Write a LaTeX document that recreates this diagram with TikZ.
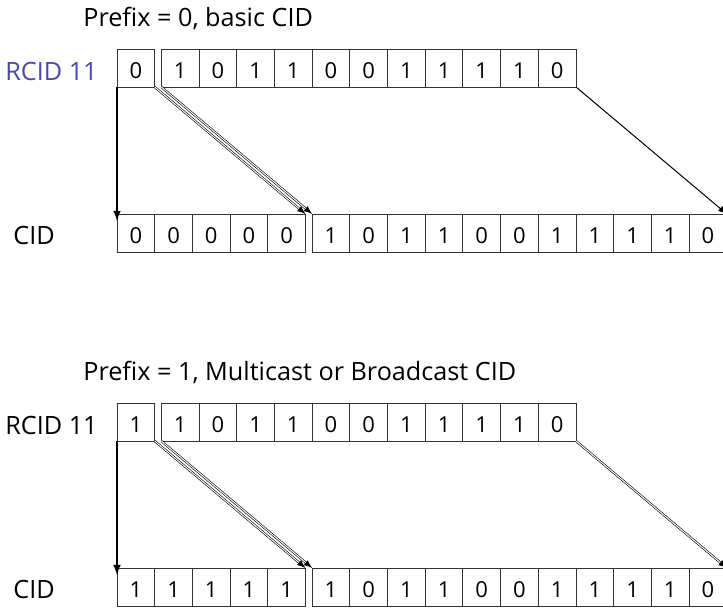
\documentclass[tikz,border=0pt]{standalone}
\usepackage{fontspec}
\setmainfont{Open Sans}
\usetikzlibrary{positioning}
\usetikzlibrary{arrows}
\definecolor{rcidblue}{RGB}{72,72,176}

\tikzset{
	bit/.style={minimum width=18.85pt,minimum height=19pt,inner sep=0pt,outer sep=0pt,draw=black!80,line width=0.5pt,text height=10.8pt,text depth=0pt,font=\fontsize{11}{13}\selectfont},
	dbl/.style={double=white,double distance=0.5pt,line width=0.3pt},
}

\begin{document}
\begin{tikzpicture}[>=latex,x=0.5pt,y=-0.5pt,font=\fontsize{12.6}{15}\selectfont]
	\useasboundingbox (0,0) rectangle (723,607);

	% Prefix = 0
	\node [anchor=base west,inner sep=0pt] at (83,26) (title0) {Prefix = 0, basic CID};
	\node [anchor=base,text=rcidblue] at (51.5,80) (rcid0_txt) {RCID 11};
	\node [anchor=base] at (34,244) (cid0_txt) {CID};

	\node [bit,anchor=west] at (117,68) (rcid0_p) {0};
	\node [bit,right=3.3pt of rcid0_p] (rcid0_1) {1};
	\foreach \b [count=\i from 2,remember=\i as \j (initially 1)] in {0,1,1,0,0,1,1,1,1,0}
		\node [bit,right=0pt of rcid0_\j] (rcid0_\i) {\b};

	\node [bit,anchor=west] at (117,233) (cid0_p1) {0};
	\foreach \b [count=\i from 2,remember=\i as \j (initially 1)] in {0,0,0,0}
		\node [bit,right=0pt of cid0_p\j] (cid0_p\i) {\b};
	\node [bit,right=3.3pt of cid0_p5] (cid0_1) {1};
	\foreach \b [count=\i from 2,remember=\i as \j (initially 1)] in {0,1,1,0,0,1,1,1,1,0}
		\node [bit,right=0pt of cid0_\j] (cid0_\i) {\b};

	\draw[->,line width=0.75pt] (rcid0_p.south west) -- ([yshift=-3.5pt]cid0_p1.north west);
	\draw[->,dbl] (rcid0_p.south east) -- (cid0_p5.north east);
	\draw[->,dbl] (rcid0_1.south west) -- (cid0_1.north west);
	\draw[->,line width=0.5pt] (rcid0_11.south east) -- (cid0_11.north east);

	% Prefix = 1
	\node [anchor=base west,inner sep=0pt] at (83,380) (title1) {Prefix = 1, Multicast or Broadcast CID};
	\node [anchor=base] at (51.5,434) (rcid1_txt) {RCID 11};
	\node [anchor=base] at (34,598) (cid1_txt) {CID};

	\node [bit,anchor=west] at (117,422) (rcid1_p) {1};
	\node [bit,right=3.3pt of rcid1_p] (rcid1_1) {1};
	\foreach \b [count=\i from 2,remember=\i as \j (initially 1)] in {0,1,1,0,0,1,1,1,1,0}
		\node [bit,right=0pt of rcid1_\j] (rcid1_\i) {\b};

	\node [bit,anchor=west] at (117,587) (cid1_p1) {1};
	\foreach \b [count=\i from 2,remember=\i as \j (initially 1)] in {1,1,1,1}
		\node [bit,right=0pt of cid1_p\j] (cid1_p\i) {\b};
	\node [bit,right=3.3pt of cid1_p5] (cid1_1) {1};
	\foreach \b [count=\i from 2,remember=\i as \j (initially 1)] in {0,1,1,0,0,1,1,1,1,0}
		\node [bit,right=0pt of cid1_\j] (cid1_\i) {\b};

	\draw[->,line width=0.75pt] (rcid1_p.south west) -- ([yshift=-3.5pt]cid1_p1.north west);
	\draw[->,dbl] (rcid1_p.south east) -- (cid1_p5.north east);
	\draw[->,dbl] (rcid1_1.south west) -- (cid1_1.north west);
	\draw[->,dbl] (rcid1_11.south east) -- (cid1_11.north east);
\end{tikzpicture}
\end{document}
